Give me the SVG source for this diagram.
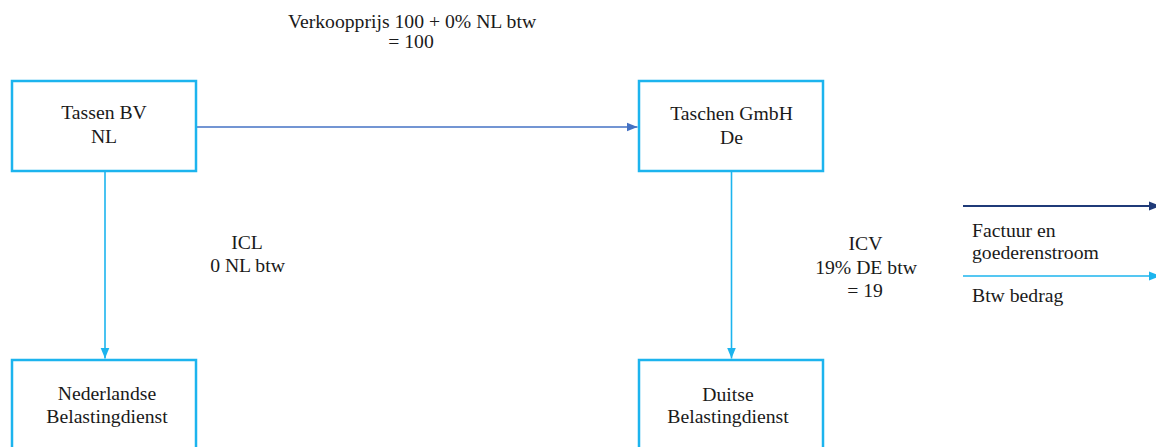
<svg xmlns="http://www.w3.org/2000/svg" width="1156" height="447" viewBox="0 0 1156 447">
  <style>
    .box { fill: #ffffff; stroke: #1cb4ee; stroke-width: 2.5; }
    .lbl { font-family: "Liberation Serif", "Times New Roman", serif; font-size: 19.7px; fill: #1a1a1a; text-anchor: middle; }
    .leg { font-family: "Liberation Serif", "Times New Roman", serif; font-size: 19.7px; fill: #1a1a1a; }
    .flow { stroke: #4472c4; stroke-width: 1.6; fill: none; }
    .tax { stroke: #1cb4ee; stroke-width: 1.6; fill: none; }
    .navy { stroke: #1f3a78; stroke-width: 1.8; fill: none; }
  </style>
  <defs>
    <marker id="headFlow" markerUnits="userSpaceOnUse" markerWidth="12" markerHeight="10" refX="11" refY="5" orient="auto">
      <path d="M0,0.5 L11,5 L0,9.5 Z" fill="#4472c4"/>
    </marker>
    <marker id="headTax" markerUnits="userSpaceOnUse" markerWidth="12" markerHeight="10" refX="11" refY="5" orient="auto">
      <path d="M0,0.5 L11,5 L0,9.5 Z" fill="#1cb4ee"/>
    </marker>
    <marker id="headNavy" markerUnits="userSpaceOnUse" markerWidth="12" markerHeight="10" refX="11" refY="5" orient="auto">
      <path d="M0,0.5 L11,5 L0,9.5 Z" fill="#1f3a78"/>
    </marker>
  </defs>

  <!-- connectors: invoice/goods flow and VAT flows -->
  <g id="connectors">
    <line class="flow" x1="197" y1="127" x2="637.5" y2="127" marker-end="url(#headFlow)"/>
    <line class="tax" x1="105" y1="172" x2="105" y2="358.5" marker-end="url(#headTax)"/>
    <line class="tax" x1="731.5" y1="172" x2="731.5" y2="358.5" marker-end="url(#headTax)"/>
  </g>

  <!-- connector labels -->
  <g id="labels">
    <text class="lbl" x="412" y="27.5">Verkoopprijs 100 + 0% NL btw<tspan x="411" dy="20">= 100</tspan></text>
    <text class="lbl" x="247" y="248.5">ICL<tspan x="247.5" dy="23.5">0 NL btw</tspan></text>
    <text class="lbl" x="865.5" y="250">ICV<tspan x="866" dy="23.5">19% DE btw</tspan><tspan x="865" dy="23.5">= 19</tspan></text>
  </g>

  <!-- nodes -->
  <g id="tassen-bv">
    <rect class="box" x="12" y="81" width="184" height="90"/>
    <text class="lbl" x="104" y="119">Tassen BV<tspan x="104" dy="24">NL</tspan></text>
  </g>
  <g id="taschen-gmbh">
    <rect class="box" x="639" y="81" width="184" height="90"/>
    <text class="lbl" x="731.5" y="120">Taschen GmbH<tspan x="731.5" dy="24">De</tspan></text>
  </g>
  <g id="nl-belastingdienst">
    <rect class="box" x="12" y="360" width="184" height="100"/>
    <text class="lbl" x="107" y="400">Nederlandse<tspan x="107" dy="23">Belastingdienst</tspan></text>
  </g>
  <g id="de-belastingdienst">
    <rect class="box" x="639" y="360" width="184" height="100"/>
    <text class="lbl" x="728" y="401">Duitse<tspan x="728" dy="22">Belastingdienst</tspan></text>
  </g>

  <!-- legend -->
  <g id="legend">
    <line class="navy" x1="963" y1="206" x2="1160" y2="206" marker-end="url(#headNavy)"/>
    <text class="leg" x="972" y="237">Factuur en<tspan x="972" dy="21.5">goederenstroom</tspan></text>
    <line class="tax" x1="963" y1="276" x2="1160" y2="276" marker-end="url(#headTax)"/>
    <text class="leg" x="972" y="302">Btw bedrag</text>
  </g>
</svg>
